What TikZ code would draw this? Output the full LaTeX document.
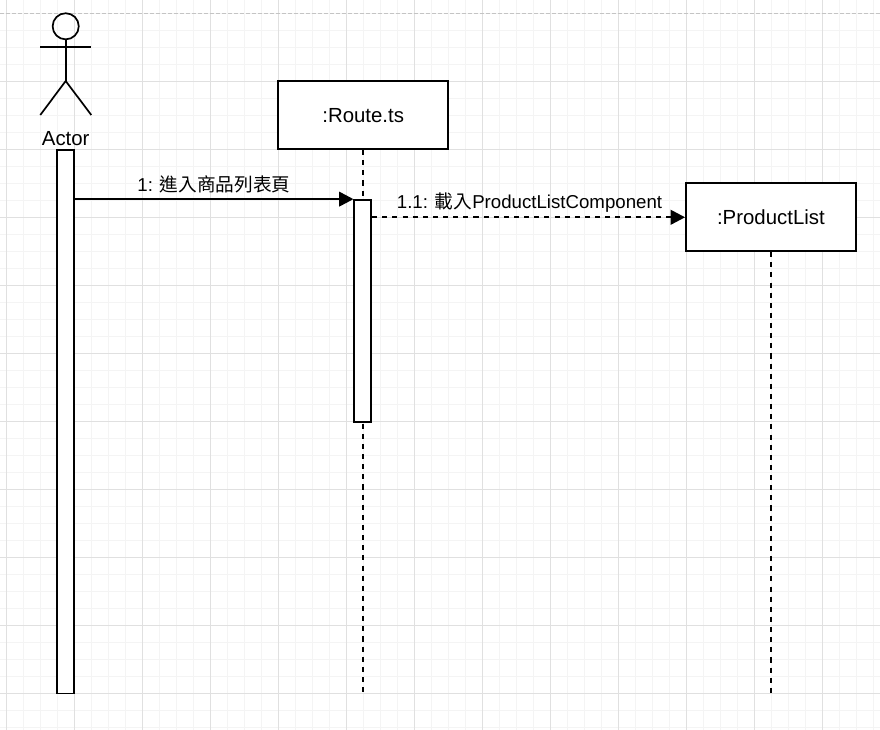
\documentclass[tikz,border=0pt]{standalone}
\usepackage{fontspec}
\setmainfont{Liberation Sans}
\newfontfamily\cjk{Noto Sans CJK TC}
\usetikzlibrary{arrows.meta}
\definecolor{gridmajor}{HTML}{E0E0E0}
\definecolor{gridminor}{HTML}{F4F4F4}
\definecolor{pageline}{HTML}{C4C4C4}
\tikzset{
  minorgrid/.style={draw=gridminor, line width=0.75pt},
  majorgrid/.style={draw=gridmajor, line width=0.75pt},
  ln/.style={line width=1.275pt, draw=black},
  objbox/.style={ln, fill=white, rectangle, inner sep=0pt, minimum width=127.5pt, minimum height=51pt, font=\fontsize{15.3pt}{18pt}\selectfont},
  actbar/.style={ln, fill=white, rectangle, inner sep=0pt, minimum width=12.75pt},
  lifeline/.style={ln, dash pattern=on 3.8pt off 3.8pt},
  msg/.style={ln, -{Triangle[length=10.75pt, width=11pt]}},
  retmsg/.style={msg, dash pattern=on 3.8pt off 3.8pt},
  msglabel/.style={anchor=base, inner sep=0pt, font=\fontsize{14pt}{16pt}\selectfont},
  actorlabel/.style={anchor=base, inner sep=0pt, font=\fontsize{15.3pt}{18pt}\selectfont},
}
\begin{document}
\begin{tikzpicture}[x=0.75pt, y=-0.75pt]
\useasboundingbox (0,0) rectangle (880,730);
\fill[white] (0,0) rectangle (880,730);
% grid
\begin{scope}
\clip (0,0) rectangle (880,730);
\foreach \i in {0,...,51} \draw[minorgrid] ({6.7+17*\i},0) -- ({6.7+17*\i},730);
\foreach \j in {0,...,42} \draw[minorgrid] (0,{13.3+17*\j}) -- (880,{13.3+17*\j});
\foreach \i in {0,...,12} \draw[majorgrid] ({6.7+68*\i},0) -- ({6.7+68*\i},730);
\foreach \j in {1,...,10} \draw[majorgrid] (0,{13.3+68*\j}) -- (880,{13.3+68*\j});
\draw[pageline, line width=0.9pt, dash pattern=on 3pt off 1.5pt] (0,13.3) -- (880,13.3);
\end{scope}

% actor
\node[ln, circle, inner sep=0pt, minimum size=19.6pt] (head) at (65.7,26.3) {};
\coordinate (hip) at (65.7,81);
\coordinate (larm) at (40.3,47.3);
\coordinate (rarm) at (91.3,47.3);
\coordinate (lfoot) at (40.3,115);
\coordinate (rfoot) at (91.3,115);
\draw[ln] (head.south) -- (hip);
\draw[ln] (larm) -- (rarm);
\draw[ln] (lfoot) -- (hip) -- (rfoot);
\node[actorlabel] (actorname) at (65.7,145.7) {Actor};

% objects
\node[objbox] (rbox) at (363.2,115.2) {:Route.ts};
\node[objbox] (pl) at (770.9,217.3) {:ProductList};

% activation bars
\node[actbar, minimum height=407.5pt] (abar) at (65.5,421.7) {};
\draw[lifeline] (rbox.south) -- (rbox.south |- abar.south);
\draw[lifeline] (pl.south) -- (pl.south |- abar.south);
\node[actbar, minimum height=166.3pt] (rbar) at (362.8,310.85) {};

% messages
\draw[msg] (abar.east |- rbar.north west) -- (rbar.north west);
\node[msglabel] (m1) at (214,191.7) {1: {\cjk 進入商品列表頁}};
\draw[retmsg] (rbar.east |- pl.west) -- (pl.west);
\node[msglabel] (m11) at (529.5,209) {1.1: {\cjk 載入}ProductListComponent};
\end{tikzpicture}
\end{document}
